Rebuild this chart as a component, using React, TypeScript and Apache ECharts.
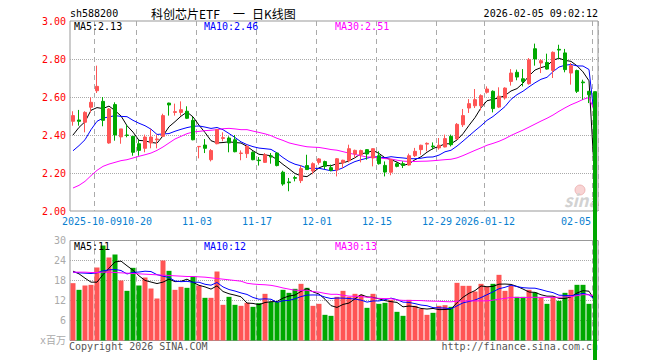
import React, { useEffect, useRef } from "react";
import * as echarts from "echarts";

const MONO = '"DejaVu Sans Mono", "Liberation Mono", "Noto Sans CJK SC", monospace';
const CJK = '"Noto Sans CJK SC", "DejaVu Sans", sans-serif';
const RED = "#ff5555";
const GREEN = "#00a800";

const dates = [
  "2025-09-25", "2025-09-26", "2025-09-29", "2025-09-30", "2025-10-09", "2025-10-10", "2025-10-13", "2025-10-14",
  "2025-10-15", "2025-10-16", "2025-10-17", "2025-10-20", "2025-10-21", "2025-10-22", "2025-10-23", "2025-10-24",
  "2025-10-27", "2025-10-28", "2025-10-29", "2025-10-30", "2025-10-31", "2025-11-03", "2025-11-04", "2025-11-05",
  "2025-11-06", "2025-11-07", "2025-11-10", "2025-11-11", "2025-11-12", "2025-11-13", "2025-11-14", "2025-11-17",
  "2025-11-18", "2025-11-19", "2025-11-20", "2025-11-21", "2025-11-24", "2025-11-25", "2025-11-26", "2025-11-27",
  "2025-11-28", "2025-12-01", "2025-12-02", "2025-12-03", "2025-12-04", "2025-12-05", "2025-12-08", "2025-12-09",
  "2025-12-10", "2025-12-11", "2025-12-12", "2025-12-15", "2025-12-16", "2025-12-17", "2025-12-18", "2025-12-19",
  "2025-12-22", "2025-12-23", "2025-12-24", "2025-12-25", "2025-12-26", "2025-12-29", "2025-12-30", "2025-12-31",
  "2026-01-05", "2026-01-06", "2026-01-07", "2026-01-08", "2026-01-09", "2026-01-12", "2026-01-13", "2026-01-14",
  "2026-01-15", "2026-01-16", "2026-01-19", "2026-01-20", "2026-01-21", "2026-01-22", "2026-01-23", "2026-01-26",
  "2026-01-27", "2026-01-28", "2026-01-29", "2026-01-30", "2026-02-02", "2026-02-03", "2026-02-04", "2026-02-05",
];

const opens = [
  2.472, 2.479, 2.467, 2.546, 2.633, 2.577, 2.358, 2.560, 2.390, 2.400, 2.393, 2.354, 2.330, 2.358, 2.375, 2.393,
  2.568, 2.519, 2.519, 2.525, 2.477, 2.338, 2.347, 2.270, 2.354, 2.382, 2.384, 2.375, 2.303, 2.302, 2.309, 2.268,
  2.256, 2.290, 2.305, 2.204, 2.153, 2.176, 2.160, 2.239, 2.211, 2.256, 2.260, 2.228, 2.216, 2.254, 2.265, 2.300,
  2.296, 2.323, 2.279, 2.291, 2.240, 2.204, 2.249, 2.249, 2.242, 2.291, 2.323, 2.352, 2.342, 2.332, 2.337, 2.393,
  2.379, 2.454, 2.542, 2.554, 2.554, 2.625, 2.630, 2.547, 2.595, 2.682, 2.730, 2.696, 2.670, 2.854, 2.779, 2.782,
  2.740, 2.851, 2.832, 2.726, 2.739, 2.679, 2.630, 2.628,
];
const closes = [
  2.502, 2.472, 2.519, 2.572, 2.656, 2.477, 2.537, 2.400, 2.432, 2.398, 2.309, 2.319, 2.389, 2.389, 2.379, 2.502,
  2.558, 2.523, 2.533, 2.488, 2.375, 2.340, 2.330, 2.318, 2.428, 2.386, 2.358, 2.312, 2.305, 2.340, 2.270, 2.265,
  2.296, 2.284, 2.239, 2.142, 2.149, 2.172, 2.223, 2.218, 2.249, 2.274, 2.235, 2.214, 2.275, 2.267, 2.328, 2.319,
  2.318, 2.300, 2.328, 2.249, 2.205, 2.270, 2.235, 2.240, 2.291, 2.314, 2.346, 2.356, 2.338, 2.346, 2.381, 2.349,
  2.456, 2.502, 2.565, 2.586, 2.607, 2.642, 2.539, 2.604, 2.647, 2.726, 2.705, 2.682, 2.796, 2.800, 2.791, 2.747,
  2.835, 2.847, 2.744, 2.765, 2.630, 2.675, 2.612, 0,
];
const highs = [
  2.525, 2.532, 2.525, 2.598, 2.765, 2.600, 2.542, 2.572, 2.432, 2.454, 2.393, 2.375, 2.402, 2.432, 2.402, 2.512,
  2.570, 2.565, 2.577, 2.551, 2.495, 2.342, 2.379, 2.326, 2.432, 2.414, 2.393, 2.400, 2.319, 2.349, 2.314, 2.284,
  2.305, 2.305, 2.309, 2.212, 2.174, 2.186, 2.239, 2.296, 2.256, 2.279, 2.265, 2.244, 2.279, 2.270, 2.349, 2.323,
  2.323, 2.326, 2.330, 2.314, 2.261, 2.274, 2.256, 2.261, 2.302, 2.332, 2.349, 2.361, 2.361, 2.384, 2.402, 2.402,
  2.463, 2.537, 2.589, 2.642, 2.614, 2.656, 2.635, 2.651, 2.651, 2.747, 2.744, 2.747, 2.805, 2.881, 2.800, 2.828,
  2.840, 2.875, 2.853, 2.779, 2.744, 2.691, 2.632, 2.628,
];
const lows = [
  2.449, 2.449, 2.414, 2.519, 2.621, 2.446, 2.354, 2.370, 2.354, 2.388, 2.291, 2.291, 2.309, 2.330, 2.330, 2.389,
  2.502, 2.502, 2.502, 2.484, 2.372, 2.277, 2.305, 2.261, 2.351, 2.367, 2.309, 2.309, 2.267, 2.279, 2.267, 2.239,
  2.253, 2.249, 2.235, 2.133, 2.104, 2.156, 2.147, 2.216, 2.193, 2.244, 2.221, 2.209, 2.182, 2.226, 2.256, 2.279,
  2.256, 2.270, 2.235, 2.244, 2.182, 2.188, 2.230, 2.226, 2.239, 2.284, 2.296, 2.314, 2.323, 2.323, 2.335, 2.340,
  2.375, 2.442, 2.516, 2.542, 2.530, 2.618, 2.519, 2.542, 2.586, 2.660, 2.688, 2.656, 2.665, 2.765, 2.726, 2.744,
  2.700, 2.800, 2.730, 2.665, 2.621, 2.586, 2.568, 0,
];
// volume, millions
const volumes = [
  17.2, 15.2, 16.5, 16.7, 21.9, 28.5, 24.9, 25.8, 18.0, 14.9, 21.8, 16.5, 18.9, 15.6, 12.6, 24.0,
  20.9, 15.2, 16.1, 15.8, 19.2, 16.5, 12.8, 12.8, 20.7, 10.7, 13.1, 10.7, 10.4, 11.3, 10.1, 11.2,
  14.0, 11.6, 11.6, 15.2, 14.3, 15.5, 17.0, 15.8, 10.4, 11.0, 7.7, 7.4, 13.1, 14.9, 13.1, 14.0,
  13.7, 9.8, 14.0, 11.0, 11.3, 12.2, 8.6, 7.4, 12.2, 10.4, 9.5, 7.7, 8.3, 10.4, 10.6, 10.1,
  17.3, 16.4, 16.4, 14.7, 17.0, 16.1, 17.0, 19.7, 14.9, 16.4, 13.1, 13.1, 15.2, 14.4, 12.8, 11.0,
  13.1, 11.9, 14.3, 15.2, 16.7, 16.7, 11.0, 0,
];

// moving-average values at the start of the window (they depend on days before it)
const ma5PriceHead = [2.40, 2.44, 2.47, 2.53];
const ma10PriceHead = [2.317, 2.344, 2.375, 2.428, 2.472, 2.489, 2.495, 2.502, 2.498];
const ma30PriceHead = [
  2.121, 2.135, 2.156, 2.186, 2.214, 2.235, 2.247, 2.256, 2.265, 2.270, 2.279, 2.288, 2.296, 2.305, 2.319,
  2.337, 2.358, 2.379, 2.393, 2.407, 2.416, 2.419, 2.423, 2.425, 2.428, 2.433, 2.435, 2.432, 2.428,
];
const ma5VolHead = [20.8, 20.0, 18.7, 17.5];
const ma10VolHead = [20.5, 20.3, 20.2, 20.1, 20.3, 20.9, 21.2, 21.3, 21.0];
const ma30VolHead = [
  20.5, 20.5, 20.5, 20.4, 20.4, 20.5, 20.5, 20.4, 20.3, 20.2, 20.1, 20.0, 19.9, 19.8, 19.7,
  19.6, 19.5, 19.4, 19.3, 19.2, 19.2, 19.1, 19.0, 18.8, 18.6, 18.4, 18.2, 18.0, 17.8,
];

const tickDates = [
  "2025-10-09", "2025-10-20", "2025-11-03", "2025-11-17", "2025-12-01",
  "2025-12-15", "2025-12-29", "2026-01-12", "2026-02-05",
];
const tickTexts = ["2025-10-09", "10-20", "11-03", "11-17", "12-01", "12-15", "12-29", "2026-01-12", "02-05"];

const priceLegend = ["MA5:2.13", "MA10:2.46", "MA30:2.51"];
const volLegend = ["MA5:11", "MA10:12", "MA30:13"];
const legendColors = ["#000000", "#0000ff", "#ff00ff"];

function movingAverage(values: number[], n: number, head: number[]) {
  return values.map((_, i) => {
    if (i < head.length) return head[i];
    let s = 0;
    for (let k = i - n + 1; k <= i; k++) s += values[k];
    return +(s / n).toFixed(4);
  });
}

export default function App() {
  const ref = useRef<HTMLDivElement>(null);
  useEffect(() => {
    if (!ref.current) return;
    const chart = echarts.init(ref.current, null, { renderer: "svg" });
    const tickIdxList = tickDates.map((d) => dates.indexOf(d));
    const tickIdx = new Set(tickIdxList);
    const firstLabel = new Set([tickIdxList[0]]);
    const otherLabels = new Set(tickIdxList.slice(1));
    const tickMap: Record<string, string> = {};
    tickDates.forEach((d, i) => (tickMap[d] = tickTexts[i]));

    const candle = dates.map((_, i) => [opens[i], closes[i], lows[i], highs[i]]);
    const volData = volumes.map((v, i) => ({
      value: v,
      itemStyle: { color: closes[i] >= opens[i] ? RED : GREEN },
    }));

    const lineSeries = (name: string, data: number[], color: string, xi: number) => ({
      name,
      type: "line",
      xAxisIndex: xi,
      yAxisIndex: xi,
      data,
      showSymbol: false,
      symbol: "none",
      lineStyle: { color, width: 1 },
      z: 4,
      silent: true,
    });

    const catAxis = (gi: number, labels: Set<number> | null, split: boolean, padRight = 6, alignMax = false) => ({
      type: "category",
      gridIndex: gi,
      position: "bottom",
      data: dates,
      boundaryGap: true,
      axisLine: { show: false },
      axisTick: { show: false },
      axisLabel: labels
        ? {
            interval: (i: number) => labels.has(i),
            formatter: (v: string) => tickMap[v] || "",
            color: "#0a7fd0",
            fontFamily: MONO,
            fontSize: 10,
            margin: 5,
            padding: [0, padRight, 0, 0],
            hideOverlap: false,
            showMinLabel: true,
            showMaxLabel: true,
            ...(alignMax ? { alignMaxLabel: "right" } : {}),
          }
        : { show: false },
      splitLine: {
        show: split,
        interval: (i: number) => tickIdx.has(i),
        lineStyle: { color: "#aaaaaa", width: 1, type: [5, 4] },
      },
    });

    const gridText = (text: string, x: number, y: number, fill: string, align: string, font = `10px ${MONO}`, z = 10) => ({
      type: "text",
      x,
      y,
      z,
      silent: true,
      style: { text, fill, font, textAlign: align, textVerticalAlign: "middle" },
    });

    const option: any = {
      animation: false,
      backgroundColor: "#ffffff",
      grid: [
        { left: 70, top: 21, width: 528, height: 190, show: true, borderColor: "#999999", borderWidth: 1, backgroundColor: "transparent" },
        { left: 70, top: 240.5, width: 528, height: 100, show: true, borderColor: "#999999", borderWidth: 1, backgroundColor: "transparent" },
      ],
      xAxis: [catAxis(0, firstLabel, true, 10), catAxis(1, null, true), catAxis(0, otherLabels, false, 4, true)],
      yAxis: [
        {
          type: "value",
          gridIndex: 0,
          min: 2,
          max: 3,
          interval: 0.2,
          axisLine: { show: false },
          axisTick: { show: false },
          axisLabel: { color: "#ff0000", fontFamily: MONO, fontSize: 10, margin: 4, formatter: (v: number) => v.toFixed(2) },
          splitLine: { show: true, showMinLine: false, showMaxLine: false, lineStyle: { color: "#aaaaaa", type: "dotted" } },
        },
        {
          type: "value",
          gridIndex: 1,
          min: 0,
          max: 30,
          interval: 6,
          axisLine: { show: false },
          axisTick: { show: false },
          axisLabel: {
            color: "#aaaaaa",
            fontFamily: MONO,
            fontSize: 10,
            margin: 4,
            formatter: (v: number) => (v === 0 ? "x百万" : String(v)),
          },
          splitLine: { show: true, showMinLine: false, showMaxLine: false, lineStyle: { color: "#aaaaaa", type: "dotted" } },
        },
      ],
      series: [
        {
          type: "candlestick",
          xAxisIndex: 0,
          yAxisIndex: 0,
          data: candle,
          barWidth: 4,
          clip: false,
          z: 6,
          silent: true,
          itemStyle: { color: RED, color0: GREEN, borderColor: RED, borderColor0: GREEN, borderWidth: 1 },
        },
        lineSeries("MA5", movingAverage(closes, 5, ma5PriceHead), "#000000", 0),
        lineSeries("MA10", movingAverage(closes, 10, ma10PriceHead), "#0000ff", 0),
        lineSeries("MA30", movingAverage(closes, 30, ma30PriceHead), "#ff00ff", 0),
        {
          type: "bar",
          xAxisIndex: 1,
          yAxisIndex: 1,
          data: volData,
          barWidth: 5,
          z: 2,
          silent: true,
        },
        lineSeries("VMA5", movingAverage(volumes, 5, ma5VolHead), "#000000", 1),
        lineSeries("VMA10", movingAverage(volumes, 10, ma10VolHead), "#0000ff", 1),
        lineSeries("VMA30", movingAverage(volumes, 30, ma30VolHead), "#ff00ff", 1),
      ],
      graphic: [
        gridText("sh588200", 70, 13, "#000000", "left"),
        gridText("科创芯片ETF", 151, 13, "#000000", "left", `12px ${CJK}`),
        gridText("一", 233, 13, "#000000", "left", `12px ${CJK}`),
        gridText("日K线图", 252, 13, "#000000", "left", `12px ${CJK}`),
        gridText("2026-02-05 09:02:12", 598, 13, "#000000", "right"),
        ...priceLegend.map((t, i) => gridText(t, [74, 204, 335][i], 26, legendColors[i], "left")),
        ...volLegend.map((t, i) => gridText(t, [74, 204, 335][i], 246, legendColors[i], "left")),
        gridText("Copyright 2026 SINA.COM", 69, 346, "#555555", "left", `10px ${MONO}`, 1),
        gridText("http://finance.sina.com.cn", 598, 346, "#555555", "right", `10px ${MONO}`, 1),
        {
          type: "circle",
          z: 1,
          silent: true,
          shape: { cx: 580, cy: 190, r: 5 },
          style: { fill: "rgba(240,160,160,0.45)", stroke: "rgba(230,150,150,0.6)", lineWidth: 1 },
        },
        gridText("sina", 564, 199, "#d2d2d2", "left", `italic bold 17px ${CJK}`, 1),
      ],
    };
    chart.setOption(option);
    return () => chart.dispose();
  }, []);
  return <div ref={ref} style={{ position: "absolute", left: 0, top: 0, width: 660, height: 360 }} />;
}
